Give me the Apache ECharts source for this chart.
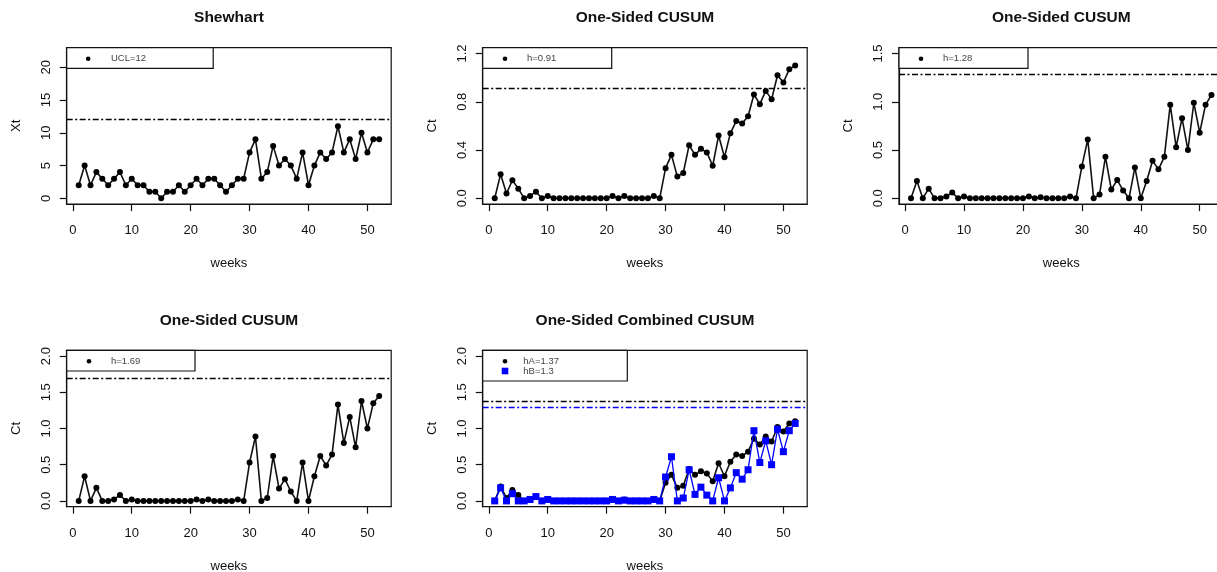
<!DOCTYPE html>
<html>
<head>
<meta charset="utf-8">
<script src="https://cdn.jsdelivr.net/npm/echarts@6/dist/echarts.min.js"></script>
<style>
  html, body { margin: 0; padding: 0; background: #fff; }
  #chart { width: 1217px; height: 572px; }
</style>
</head>
<body>
<div id="chart"></div>
<script>
// Weekly surveillance counts and the CUSUM statistics derived from them
const weeks = [1, 2, 3, 4, 5, 6, 7, 8, 9, 10, 11, 12, 13, 14, 15, 16, 17, 18, 19, 20,
  21, 22, 23, 24, 25, 26, 27, 28, 29, 30, 31, 32, 33, 34, 35, 36, 37, 38, 39, 40,
  41, 42, 43, 44, 45, 46, 47, 48, 49, 50, 51, 52];

const shewhartXt = [2, 5, 2, 4, 3, 2, 3, 4, 2, 3, 2, 2, 1, 1, 0, 1, 1, 2, 1, 2,
  3, 2, 3, 3, 2, 1, 2, 3, 3, 7, 9, 3, 4, 8, 5, 6, 5, 3, 7, 2,
  5, 7, 6, 7, 11, 7, 9, 6, 10, 7, 9, 9];

const cusumA = [0, 0.20, 0.04, 0.15, 0.08, 0, 0.02, 0.055, 0, 0.02, 0, 0, 0, 0, 0, 0, 0, 0, 0, 0,
  0.02, 0, 0.02, 0, 0, 0, 0, 0.02, 0, 0.25, 0.36, 0.18, 0.21, 0.44, 0.36, 0.41, 0.38, 0.27, 0.52, 0.34,
  0.54, 0.64, 0.62, 0.68, 0.86, 0.78, 0.89, 0.82, 1.02, 0.96, 1.07, 1.10];

const cusumB = [0, 0.18, 0, 0.10, 0, 0, 0.02, 0.06, 0, 0.02, 0, 0, 0, 0, 0, 0, 0, 0, 0, 0,
  0.02, 0, 0.01, 0, 0, 0, 0, 0.02, 0, 0.33, 0.61, 0, 0.04, 0.43, 0.09, 0.19, 0.08, 0, 0.32, 0,
  0.18, 0.39, 0.30, 0.43, 0.97, 0.53, 0.83, 0.50, 0.99, 0.68, 0.97, 1.07];

const cusumC = [0, 0.34, 0, 0.18, 0, 0, 0.02, 0.08, 0, 0.02, 0, 0, 0, 0, 0, 0, 0, 0, 0, 0,
  0.02, 0, 0.02, 0, 0, 0, 0, 0.02, 0, 0.53, 0.89, 0, 0.04, 0.62, 0.17, 0.30, 0.13, 0, 0.53, 0,
  0.34, 0.62, 0.49, 0.64, 1.33, 0.80, 1.16, 0.74, 1.38, 1.00, 1.35, 1.45];

// thresholds
const ucl = 12;
const hA1 = 0.91;
const hB1 = 1.28;
const hC1 = 1.69;
const hComb = [1.37, 1.3];

const panelTitles = ['Shewhart', 'One-Sided CUSUM', 'One-Sided CUSUM', 'One-Sided CUSUM', 'One-Sided Combined CUSUM'];
const yNames = ['Xt', 'Ct', 'Ct', 'Ct', 'Ct'];
const xTicks = [0, 10, 20, 30, 40, 50];
const yTicks = [
  [0, 5, 10, 15, 20],
  [0, 0.4, 0.8, 1.2],
  [0, 0.5, 1.0, 1.5],
  [0, 0.5, 1.0, 1.5, 2.0],
  [0, 0.5, 1.0, 1.5, 2.0]
];
const legendLabels = [['UCL=12'], ['h=0.91'], ['h=1.28'], ['h=1.69'], ['hA=1.37', 'hB=1.3']];

// ---- layout ----
const PW = 324.5, PH = 156.4;
const panelPos = [
  { left: 66.7, top: 47.7 }, { left: 482.7, top: 47.7 }, { left: 899, top: 47.7 },
  { left: 66.7, top: 350.3 }, { left: 482.7, top: 350.3 }
];
const yRange = [[-0.88, 22.98], [-0.048, 1.248], [-0.06, 1.56], [-0.08, 2.08], [-0.08, 2.08]];
const legendBox = [
  { w: 146.5, h: 20.6, sx: 21.5, tx: 44.3 },
  { w: 129, h: 20.6, sx: 22.3, tx: 44.3 },
  { w: 129, h: 20.6, sx: 22, tx: 44 },
  { w: 128.3, h: 20.7, sx: 22.3, tx: 44.3 },
  { w: 144.6, h: 30.7, sx: 22.3, tx: 40.6 }
];
const BLUE = '#0000ff';
const FONT = '"Liberation Sans", Arial, sans-serif';
const dotDash = [6, 2.5, 2, 2.5];

const pairs = vals => weeks.map((w, i) => [w, vals[i]]);

const grids = panelPos.map(p => ({
  left: p.left, top: p.top, width: PW, height: PH,
  show: true, borderColor: '#111', borderWidth: 1.2, backgroundColor: 'transparent',
  containLabel: false, outerBoundsMode: 'none'
}));

const xAxes = panelPos.map((p, i) => ({
  type: 'value', gridIndex: i, min: -1.04, max: 54.04,
  axisLine: { show: true, onZero: false, lineStyle: { color: '#111', width: 1.2 } },
  axisTick: { show: true, customValues: xTicks, length: 7, lineStyle: { color: '#111', width: 1.2 } },
  axisLabel: { customValues: xTicks, color: '#111', fontSize: 13, fontFamily: FONT, margin: 20 },
  splitLine: { show: false },
  name: 'weeks', nameLocation: 'middle', nameGap: 53,
  nameTextStyle: { color: '#111', fontSize: 13, fontFamily: FONT }
}));

const yAxes = panelPos.map((p, i) => ({
  type: 'value', gridIndex: i, min: yRange[i][0], max: yRange[i][1],
  axisLine: { show: true, onZero: false, lineStyle: { color: '#111', width: 1.2 } },
  axisTick: { show: true, customValues: yTicks[i], length: 7, lineStyle: { color: '#111', width: 1.2 } },
  axisLabel: {
    customValues: yTicks[i], rotate: 90, color: '#111', fontSize: 13, fontFamily: FONT, margin: 14,
    formatter: v => (i === 0 ? String(v) : v.toFixed(1))
  },
  splitLine: { show: false },
  name: yNames[i], nameLocation: 'middle', nameGap: 44, nameRotate: 90,
  nameTextStyle: { color: '#111', fontSize: 13, fontFamily: FONT }
}));

function limitLine(value, color) {
  return {
    silent: true, symbol: ['none', 'none'], label: { show: false },
    lineStyle: { color: color, type: dotDash, width: 1.4 },
    itemStyle: { color: color },
    data: [{ yAxis: value, lineStyle: { color: color } }]
  };
}

function blackSeries(idx, vals, markLine) {
  return {
    type: 'line', xAxisIndex: idx, yAxisIndex: idx, data: pairs(vals),
    symbol: 'circle', symbolSize: 6, showSymbol: true,
    lineStyle: { color: '#111', width: 1.6 }, itemStyle: { color: '#000' },
    markLine: markLine, z: 3
  };
}

const series = [
  blackSeries(0, shewhartXt, limitLine(ucl, '#000')),
  blackSeries(1, cusumA, limitLine(hA1, '#000')),
  blackSeries(2, cusumB, limitLine(hB1, '#000')),
  blackSeries(3, cusumC, limitLine(hC1, '#000')),
  blackSeries(4, cusumA, limitLine(hComb[0], '#000')),
  {
    type: 'line', xAxisIndex: 4, yAxisIndex: 4, data: pairs(cusumB),
    symbol: 'rect', symbolSize: 7, showSymbol: true,
    lineStyle: { color: BLUE, width: 1.3 }, itemStyle: { color: BLUE },
    markLine: limitLine(hComb[1], BLUE), z: 4
  }
];

// titles and boxed legends
const graphics = [];
panelPos.forEach((p, i) => {
  graphics.push({
    type: 'text', x: p.left + PW / 2, y: i < 3 ? 17.5 : 320.5, z: 10,
    style: { text: panelTitles[i], font: 'bold 15.5px ' + FONT, fill: '#111', textAlign: 'center', textVerticalAlign: 'middle' }
  });
  const lb = legendBox[i];
  graphics.push({
    type: 'rect', x: p.left, y: p.top, z: 10,
    shape: { x: 0, y: 0, width: lb.w, height: lb.h },
    style: { fill: '#fff', stroke: '#111', lineWidth: 1.2 }
  });
  legendLabels[i].forEach((lab, k) => {
    const cy = p.top + 11 + k * 9.7;
    const isBlue = i === 4 && k === 1;
    if (isBlue) {
      graphics.push({ type: 'rect', x: p.left + lb.sx, y: cy, z: 11,
        shape: { x: -3.3, y: -3.3, width: 6.6, height: 6.6 }, style: { fill: BLUE } });
    } else {
      graphics.push({ type: 'circle', x: p.left + lb.sx, y: cy, z: 11,
        shape: { cx: 0, cy: 0, r: 2.3 }, style: { fill: '#000' } });
    }
    graphics.push({ type: 'text', x: p.left + lb.tx, y: cy, z: 11,
      style: { text: lab, font: '9.5px ' + FONT, fill: '#444', textAlign: 'left', textVerticalAlign: 'middle' } });
  });
});

const chart = echarts.init(document.getElementById('chart'), null, { renderer: 'canvas' });
chart.setOption({
  animation: false,
  backgroundColor: '#fff',
  textStyle: { fontFamily: FONT },
  grid: grids,
  xAxis: xAxes,
  yAxis: yAxes,
  series: series,
  graphic: graphics
});
</script>
</body>
</html>
